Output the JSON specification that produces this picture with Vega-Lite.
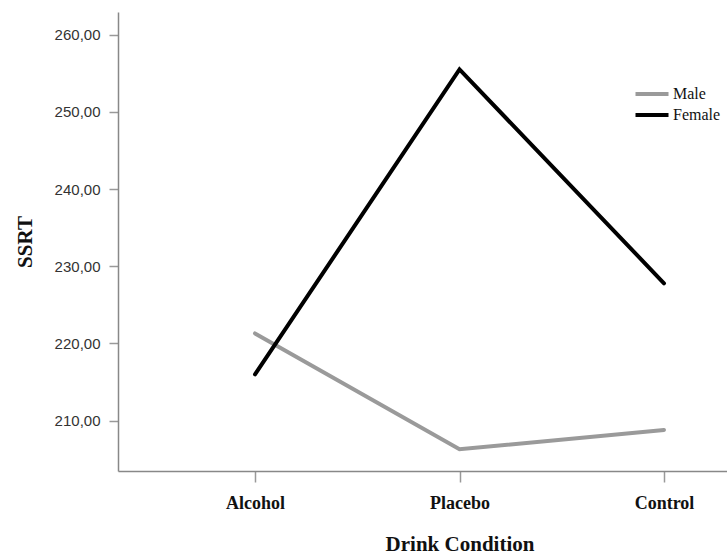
{
  "$schema": "https://vega.github.io/schema/vega-lite/v6.json",
  "autosize": "none",
  "padding": {"left": 118, "top": 12, "right": 0, "bottom": 84},
  "width": 683,
  "height": 459,
  "background": "white",
  "config": {"view": {"stroke": null}},
  "data": {
    "values": [
      {"condition": "Alcohol", "sex": "Male", "ssrt": 221.3},
      {"condition": "Placebo", "sex": "Male", "ssrt": 206.3},
      {"condition": "Control", "sex": "Male", "ssrt": 208.8},
      {"condition": "Alcohol", "sex": "Female", "ssrt": 216.0},
      {"condition": "Placebo", "sex": "Female", "ssrt": 255.5},
      {"condition": "Control", "sex": "Female", "ssrt": 227.8}
    ]
  },
  "mark": {"type": "line", "strokeWidth": 4, "strokeCap": "round", "strokeJoin": "miter"},
  "encoding": {
    "x": {
      "field": "condition",
      "type": "nominal",
      "sort": ["Alcohol", "Placebo", "Control"],
      "scale": {"type": "point", "padding": 0.67},
      "axis": {
        "title": "Drink Condition",
        "labelAngle": 0,
        "labelFont": "Liberation Serif",
        "labelFontWeight": "bold",
        "labelFontSize": 18,
        "labelColor": "#111",
        "labelPadding": 12,
        "tickSize": 11,
        "tickColor": "#999",
        "tickWidth": 1.5,
        "domainColor": "#888",
        "domainWidth": 1.5,
        "grid": false,
        "titleFont": "Liberation Serif",
        "titleFontWeight": "bold",
        "titleFontSize": 21,
        "titleColor": "#111",
        "titlePadding": 21
      }
    },
    "y": {
      "field": "ssrt",
      "type": "quantitative",
      "scale": {"domain": [203.48, 262.94], "nice": false, "zero": false},
      "axis": {
        "title": "SSRT",
        "values": [210, 220, 230, 240, 250, 260],
        "labelExpr": "replace(format(datum.value, '.2f'), '.', ',')",
        "labelFont": "Liberation Sans",
        "labelFontSize": 15,
        "labelColor": "#333",
        "labelPadding": 9,
        "tickSize": 9,
        "tickColor": "#999",
        "tickWidth": 1.5,
        "domainColor": "#888",
        "domainWidth": 1.5,
        "grid": false,
        "titleFont": "Liberation Serif",
        "titleFontWeight": "bold",
        "titleFontSize": 21,
        "titleColor": "#111",
        "titlePadding": 19
      }
    },
    "color": {
      "field": "sex",
      "type": "nominal",
      "sort": ["Male", "Female"],
      "scale": {"domain": ["Male", "Female"], "range": ["#9a9a9a", "#000000"]},
      "legend": {
        "title": null,
        "orient": "none",
        "legendX": 526,
        "legendY": 74,
        "padding": 0,
        "symbolType": "M-3,0H3",
        "symbolSize": 121,
        "symbolStrokeWidth": 4,
        "labelOffset": 13,
        "labelFont": "Liberation Serif",
        "labelFontSize": 16,
        "labelColor": "#111",
        "rowPadding": 5
      }
    }
  }
}
